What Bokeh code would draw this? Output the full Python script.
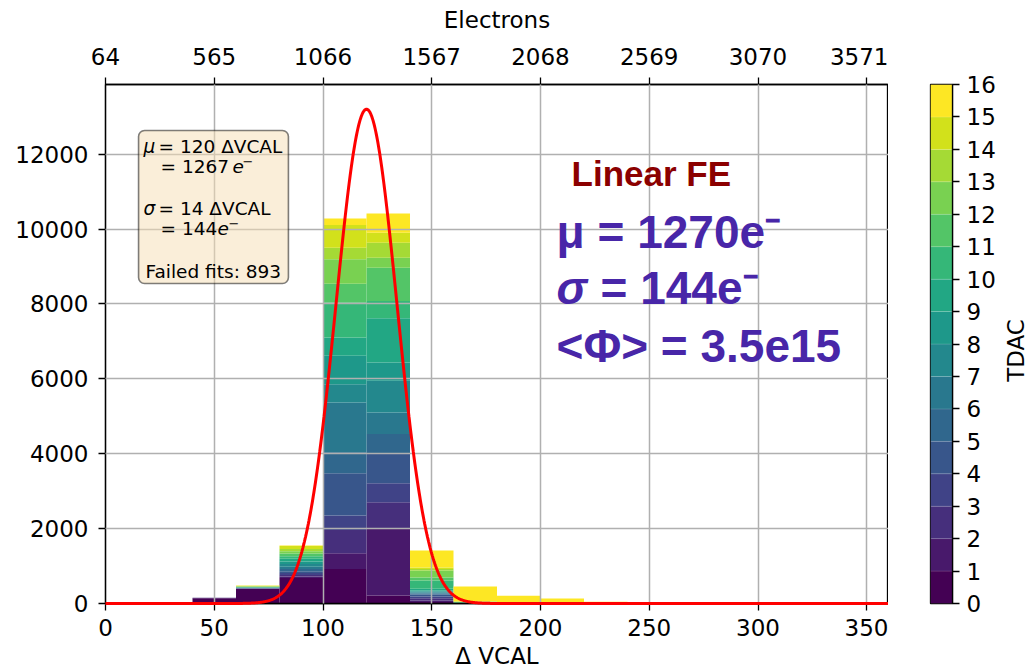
import numpy as np
from bokeh.plotting import figure
from bokeh.models import ColumnDataSource, FixedTicker, LinearAxis, Label, BoxAnnotation, Range1d
from bokeh.core.properties import value
from bokeh.layouts import row
from bokeh.palettes import viridis
from bokeh.embed import file_html
from bokeh.resources import INLINE

# ---------------- data ----------------
bin_edges = list(range(0, 361, 20))  # Δ VCAL bins of width 20

# stacked counts per TDAC value (bins 0-20, 20-40, ..., 340-360)
tdac0 = [3, 10, 140, 390, 684, 924, 213, 40, 0, 0, 0, 0, 0, 0, 0, 0, 0, 0]
tdac1 = [0, 0, 8, 5, 40, 418, 1778, 40, 0, 0, 0, 0, 0, 0, 0, 0, 0, 0]
tdac2 = [0, 0, 3, 5, 40, 622, 711, 60, 0, 0, 0, 0, 0, 0, 0, 0, 0, 0]
tdac3 = [0, 0, 0, 5, 50, 383, 507, 50, 0, 0, 0, 0, 0, 0, 0, 0, 0, 0]
tdac4 = [0, 0, 0, 5, 50, 1129, 782, 50, 0, 0, 0, 0, 0, 0, 0, 0, 0, 0]
tdac5 = [0, 0, 0, 5, 60, 560, 533, 27, 8, 0, 0, 0, 0, 0, 0, 0, 0, 0]
tdac6 = [0, 0, 0, 5, 60, 1333, 578, 27, 0, 0, 0, 0, 0, 0, 0, 0, 0, 0]
tdac7 = [0, 0, 0, 5, 70, 489, 845, 27, 0, 0, 0, 0, 0, 0, 0, 0, 0, 0]
tdac8 = [0, 0, 0, 5, 70, 755, 489, 26, 10, 0, 0, 0, 0, 0, 0, 0, 0, 0]
tdac9 = [0, 0, 0, 5, 70, 489, 1182, 50, 0, 6, 0, 0, 0, 0, 0, 0, 0, 0]
tdac10 = [0, 0, 0, 5, 70, 934, 462, 216, 15, 0, 8, 0, 0, 0, 0, 0, 0, 0]
tdac11 = [0, 0, 0, 5, 70, 506, 889, 80, 0, 0, 0, 0, 0, 0, 0, 0, 0, 0]
tdac12 = [0, 0, 0, 10, 60, 649, 267, 187, 20, 8, 0, 0, 0, 0, 0, 0, 0, 0]
tdac13 = [0, 0, 0, 10, 60, 311, 400, 40, 0, 0, 0, 0, 0, 0, 0, 0, 0, 0]
tdac14 = [0, 0, 0, 10, 80, 605, 266, 40, 0, 0, 0, 0, 0, 0, 0, 0, 0, 0]
tdac15 = [0, 0, 0, 5, 13, 177, 516, 453, 400, 190, 125, 50, 20, 10, 5, 3, 0, 0]

# gaussian fit parameters
fit_mu = 120
fit_sigma = 14
fit_amplitude = 13200

bottom_ticks = [0, 50, 100, 150, 200, 250, 300, 350]
electron_labels = ["64", "565", "1066", "1567", "2068", "2569", "3070", "3571"]
count_ticks = [0, 2000, 4000, 6000, 8000, 10000, 12000]
colorbar_ticks = list(range(17))

series = [tdac0, tdac1, tdac2, tdac3, tdac4, tdac5, tdac6, tdac7, tdac8,
          tdac9, tdac10, tdac11, tdac12, tdac13, tdac14, tdac15]
palette = viridis(16)

# ---------------- build stacked quads ----------------
L, R, B, T, C = [], [], [], [], []
cum = np.zeros(len(bin_edges) - 1)
for t, vals in enumerate(series):
    for i, v in enumerate(vals):
        if v > 0:
            L.append(bin_edges[i]); R.append(bin_edges[i + 1])
            B.append(cum[i]); T.append(cum[i] + v); C.append(palette[t])
        cum[i] += v
src = ColumnDataSource(dict(left=L, right=R, bottom=B, top=T, color=C))

FONT = "DejaVu Sans"
FS = "23px"

p = figure(output_backend="svg", toolbar_location=None,
           frame_width=783, frame_height=519,
           x_range=Range1d(0, 360), y_range=Range1d(0, 13860),
           min_border_left=105, min_border_right=0,
           min_border_top=84, min_border_bottom=66)
p.background_fill_color = "white"
p.border_fill_color = "white"
p.outline_line_color = "black"
p.outline_line_width = 1.3
p.outline_line_alpha = 1.0

p.quad(source=src, left="left", right="right", bottom="bottom", top="top",
       fill_color="color", line_color=None)

xs = np.linspace(0, 360, 1441)
ys = fit_amplitude * np.exp(-0.5 * ((xs - fit_mu) / fit_sigma) ** 2)
curve = p.line(xs, ys, line_color="#ff0000", line_width=3)
curve.level = "annotation"

for g in (p.xgrid, p.ygrid):
    g.grid_line_color = "#b0b0b0"
    g.grid_line_width = 1.5
    g.level = "guide"
p.xgrid.ticker = FixedTicker(ticks=bottom_ticks)
p.ygrid.ticker = FixedTicker(ticks=count_ticks)


def style_axis(ax):
    ax.axis_line_color = "black"
    ax.axis_line_width = 1.3
    ax.major_tick_line_color = "black"
    ax.major_tick_line_width = 1.3
    ax.major_tick_in = 0
    ax.major_tick_out = 7
    ax.minor_tick_line_color = None
    ax.major_label_text_font = FONT
    ax.major_label_text_font_size = FS
    ax.major_label_text_color = "black"
    ax.axis_label_text_font = FONT
    ax.axis_label_text_font_size = FS
    ax.axis_label_text_color = "black"
    ax.axis_label_text_font_style = "normal"


xb = p.xaxis[0]
style_axis(xb)
xb.ticker = FixedTicker(ticks=bottom_ticks)
xb.major_label_standoff = 8
xb.axis_label = "Δ VCAL"
xb.axis_label_standoff = 4

yl = p.yaxis[0]
style_axis(yl)
yl.ticker = FixedTicker(ticks=count_ticks)
yl.major_label_standoff = 10

top_axis = LinearAxis(ticker=FixedTicker(ticks=bottom_ticks),
                      major_label_overrides={t: lab for t, lab in zip(bottom_ticks, electron_labels)},
                      axis_label="Electrons")
style_axis(top_axis)
top_axis.major_label_standoff = 13
top_axis.axis_label_standoff = 12
p.add_layout(top_axis, "above")


def lab(fig, x, y, text, style="normal", size="18.5px", font=FONT, color="black"):
    fig.add_layout(Label(x=x, y=y, text=text, text_font=font, text_font_size=size,
                         text_font_style=style, text_color=color,
                         text_baseline="alphabetic", text_align="left"))


# ---- info box ----
box = BoxAnnotation(left=15.2, right=84.1, top=12631, bottom=8546,
                    fill_color="#f5deb3", fill_alpha=0.5,
                    line_color="black", line_alpha=0.5, line_width=1.6,
                    border_radius=6)
p.add_layout(box)

lab(p, 17.5, 12215, "μ", "italic")
lab(p, 24.4, 12215, "= 120 ΔVCAL")
lab(p, 25.3, 11681, "= 1267")
lab(p, 58.4, 11681, "e", "italic")
lab(p, 63.0, 11809, "−", size="13px")
lab(p, 17.5, 10559, "σ", "italic")
lab(p, 24.4, 10559, "= 14 ΔVCAL")
lab(p, 25.3, 10025, "= 144")
lab(p, 51.5, 10025, "e", "italic")
lab(p, 56.6, 10153, "−", size="13px")
lab(p, 18.4, 8877, "Failed fits: 893")

# ---- big overlay text ----
AF = "Liberation Sans"
PURPLE = "#4826A8"
lab(p, 214.3, 11483, "Linear FE", "bold", size="35px", font=AF, color="#8B0000")
lab(p, 207.4, 9918, "μ = 1270e⁻", "bold", size="46px", font=AF, color=PURPLE)
lab(p, 207.4, 8423, "σ", "bold italic", size="46px", font=AF, color=PURPLE)
lab(p, 227.6, 8423, "= 144e⁻", "bold", size="46px", font=AF, color=PURPLE)
lab(p, 207.4, 6874, "<Φ> = 3.5e15", "bold", size="46px", font=AF, color=PURPLE)

# ---------------- colorbar ----------------
cb = figure(output_backend="svg", toolbar_location=None,
            frame_width=22, frame_height=519,
            x_range=Range1d(0, 1), y_range=Range1d(0, 16),
            x_axis_location=None, y_axis_location="right",
            min_border_left=42, min_border_right=44,
            min_border_top=84, min_border_bottom=60)
cb.background_fill_color = "white"
cb.border_fill_color = "white"
cb.outline_line_color = "black"
cb.outline_line_width = 1.3
cb.grid.visible = False
lv = np.arange(16)
cb.quad(left=0, right=1, bottom=lv, top=lv + 1, fill_color=palette,
        line_color="white", line_alpha=0.15, line_width=0.8)
ya = cb.yaxis[0]
style_axis(ya)
ya.ticker = FixedTicker(ticks=colorbar_ticks)
ya.major_label_standoff = 7

# colorbar title, drawn rotated inside a narrow companion figure
tf = figure(output_backend="svg", toolbar_location=None,
            frame_width=30, frame_height=519,
            x_range=Range1d(0, 30), y_range=Range1d(0, 16),
            x_axis_location=None, y_axis_location=None,
            min_border_left=0, min_border_right=0,
            min_border_top=84, min_border_bottom=60)
tf.background_fill_color = "white"
tf.border_fill_color = "white"
tf.outline_line_color = None
tf.grid.visible = False
tf.text(x=[17], y=[7.8], text=["TDAC"], angle=np.pi / 2,
        text_font=value(FONT), text_font_size=value(FS), text_color="black",
        text_baseline="middle", text_align="center")

layout = row(p, cb, tf)
open("out.html", "w").write(file_html(layout, INLINE))
